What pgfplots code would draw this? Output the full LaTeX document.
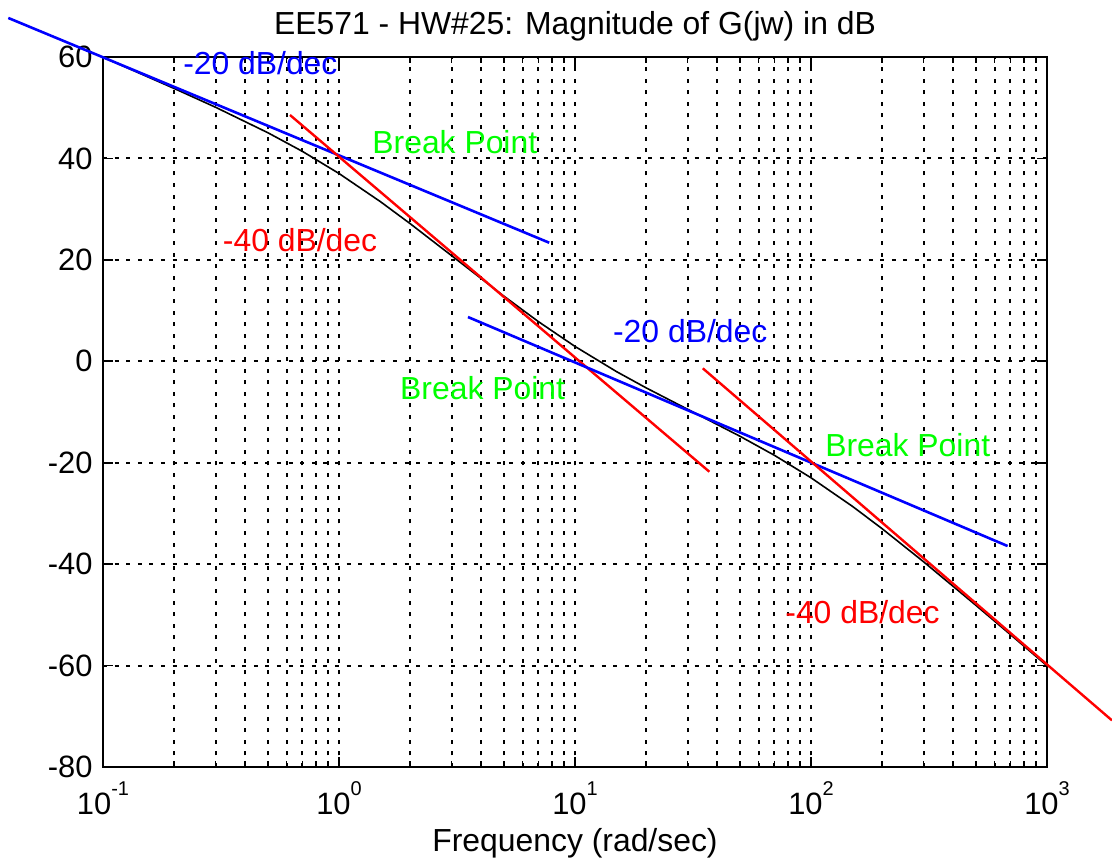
\documentclass[border=0pt]{standalone}
\usepackage{fontspec}
\setmainfont{Liberation Sans}
\usepackage{pgfplots}
\pgfplotsset{compat=1.18}
\definecolor{mblue}{RGB}{0,0,255}
\definecolor{mred}{RGB}{255,0,0}
\definecolor{mgreen}{RGB}{0,255,0}

\newcommand{\ex}[1]{10\raisebox{9.5bp}{\fontsize{10}{12}\selectfont #1}}

\begin{document}
\begin{tikzpicture}
% page = 1112x861 px at 0.5bp/px, plot box at (103,57)-(1047,767)
\path[use as bounding box] (-51.5bp,-47bp) rectangle (504.5bp,383.5bp);
\begin{axis}[
  at={(0,0)}, anchor=south west,
  scale only axis, width=472bp, height=355bp,
  xmode=log, xmin=0.1, xmax=1000, ymin=-80, ymax=60,
  xtick={0.1,1,10,100,1000},
  xticklabels={\ex{-1},\ex{0},\ex{1},\ex{2},\ex{3}},
  ytick={-80,-60,...,60},
  grid=both,
  major grid style={black, line width=1bp, dash pattern=on 2bp off 3.8bp},
  minor grid style={black, line width=1bp, dash pattern=on 2bp off 3.8bp},
  tick align=inside,
  major tick length=5bp, minor tick length=3bp,
  every tick/.style={black, line width=0.8bp},
  axis line style={line width=1.1bp},
  clip=false,
  tick label style={font=\fontsize{15.5}{18}\selectfont},
  yticklabel style={anchor=east, inner sep=0pt, xshift=-5bp},
  xticklabel style={anchor=base, inner sep=0pt, yshift=-23.5bp},
  /pgf/number format/assume math mode=true,
]
% actual magnitude
\addplot[black, line width=0.8bp] coordinates {
(0.1,59.96) (0.2,53.81) (0.3,50.09) (0.5,45.06) (0.7,41.39) (1,37.03)
(1.5,31.46) (2,27.16) (3,20.83) (5,12.84) (7,7.82) (10,2.93)
(15,-2.04) (20,-5.23) (30,-9.46) (50,-14.78) (70,-18.54) (100,-22.97)
(150,-28.62) (200,-33.00) (300,-39.53) (500,-48.13) (700,-53.89) (1000,-60.04)};
% asymptotes
\addplot[mblue, line width=1.3bp] coordinates {(0.0397,67.7) (7.78,23.38)};
\addplot[mred, line width=1.2bp] coordinates {(0.620,48.56) (37.1,-21.78)};
\addplot[mblue, line width=1.3bp] coordinates {(3.52,8.73) (681,-36.43)};
\addplot[mred, line width=1.2bp] coordinates {(34.8,-1.39) (1884,-70.8)};

\begin{scope}[every node/.style={font=\fontsize{16}{19}\selectfont, inner sep=0pt, anchor=west}]
\node[text=mblue] at (axis cs:0.218,58.7) {-20 dB/dec};
\node[text=mgreen] at (axis cs:1.38,43.2) {Break Point};
\node[text=mred] at (axis cs:0.321,23.9) {-40 dB/dec};
\node[text=mblue] at (axis cs:14.45,5.97) {-20 dB/dec};
\node[text=mgreen] at (axis cs:1.81,-5.3) {Break Point};
\node[text=mgreen] at (axis cs:114.6,-16.5) {Break Point};
\node[text=mred] at (axis cs:77.6,-49.4) {-40 dB/dec};
\node[anchor=base, text=black] at (rel axis cs:0.5,1) [yshift=11.5bp] {EE571 - HW\#25: Magnitude of G(jw) in dB};
\node[anchor=base, text=black] at (rel axis cs:0.5,0) [yshift=-42bp] {Frequency (rad/sec)};
\end{scope}
\end{axis}
\end{tikzpicture}
\end{document}
